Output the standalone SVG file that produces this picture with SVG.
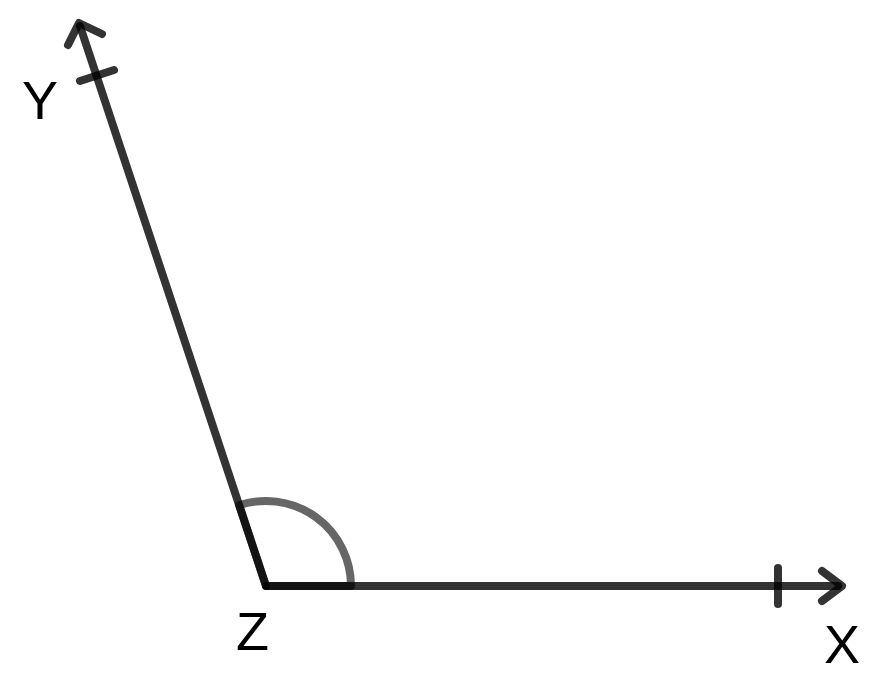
<svg xmlns="http://www.w3.org/2000/svg" width="880" height="688" viewBox="0 0 880 688">
<style>
.ray{stroke:#000;stroke-opacity:0.8;stroke-width:8;stroke-linecap:round;stroke-linejoin:round;fill:none}
.ang{stroke:#000;stroke-opacity:0.6;stroke-width:8;stroke-linecap:round;stroke-linejoin:round;fill:none}
.lbl{font-family:"Liberation Sans",Arial,sans-serif;font-size:54px;fill:#000}
</style>
<rect width="880" height="688" fill="#fff"/>
<g id="connectors">
<line class="ray" x1="266" y1="586" x2="80" y2="26"/>
<line class="ray" x1="266" y1="586" x2="838" y2="586"/>
<polyline class="ray" points="68,45 79,23 102,34"/>
<polyline class="ray" points="822,571 842,586 822,601"/>
<line class="ray" x1="80" y1="81" x2="114" y2="70"/>
<line class="ray" x1="778" y1="568" x2="778" y2="604"/>
</g>
<g id="angle">
<path class="ang" d="M239.2,505.3 A85,85 0 0 1 351,586 L266,586 Z"/>
</g>
<g id="node-Y"><text class="lbl" x="22" y="119">Y</text></g>
<g id="node-Z"><text class="lbl" x="236" y="650">Z</text></g>
<g id="node-X"><text class="lbl" x="824" y="663">X</text></g>
</svg>
